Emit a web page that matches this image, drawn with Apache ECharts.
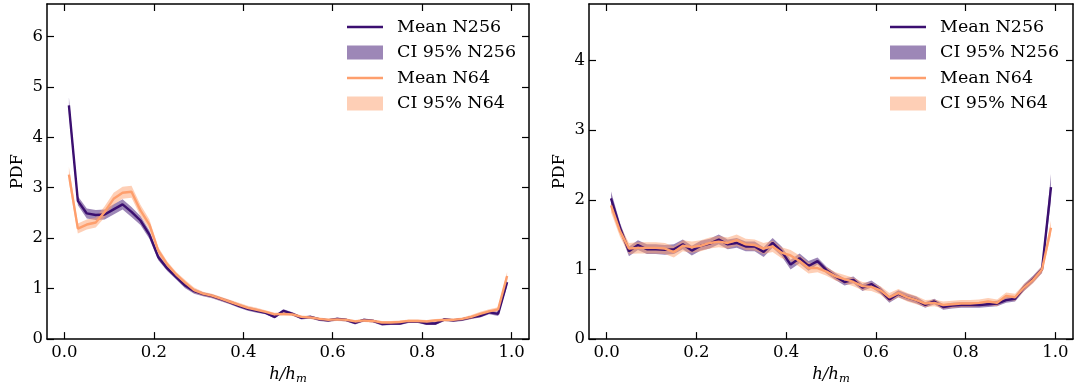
<!DOCTYPE html>
<html>
<head>
<meta charset="utf-8">
<script src="https://cdn.jsdelivr.net/npm/echarts@6/dist/echarts.min.js"></script>
<style>
  html, body { margin: 0; padding: 0; background: #fff; }
  #chart { width: 1076px; height: 390px; }
</style>
</head>
<body>
<div id="chart"></div>
<script>
// Bin centres of h/h_m
const hBins = [0.01,0.03,0.05,0.07,0.09,0.11,0.13,0.15,0.17,0.19,0.21,0.23,0.25,0.27,0.29,0.31,0.33,0.35,0.37,0.39,
  0.41,0.43,0.45,0.47,0.49,0.51,0.53,0.55,0.57,0.59,0.61,0.63,0.65,0.67,0.69,0.71,0.73,0.75,0.77,0.79,
  0.81,0.83,0.85,0.87,0.89,0.91,0.93,0.95,0.97,0.99];

// Left panel: N256
const leftMeanN256 = [4.63,2.74,2.49,2.46,2.47,2.57,2.67,2.52,2.35,2.07,1.62,1.40,1.23,1.06,0.95,0.89,0.85,0.79,0.73,0.66,
  0.60,0.56,0.52,0.44,0.56,0.50,0.42,0.44,0.39,0.37,0.40,0.38,0.32,0.38,0.36,0.30,0.31,0.31,0.35,0.35,
  0.31,0.31,0.39,0.37,0.39,0.43,0.46,0.53,0.50,1.13];
const leftLoN256 = [4.47,2.65,2.39,2.36,2.37,2.47,2.57,2.42,2.26,1.99,1.56,1.35,1.18,1.01,0.90,0.85,0.81,0.75,0.69,0.62,
  0.56,0.52,0.49,0.41,0.53,0.47,0.39,0.41,0.36,0.34,0.37,0.35,0.29,0.35,0.33,0.27,0.28,0.28,0.32,0.32,
  0.28,0.28,0.36,0.34,0.36,0.40,0.43,0.49,0.46,1.05];
const leftHiN256 = [4.79,2.83,2.59,2.56,2.57,2.67,2.77,2.62,2.44,2.15,1.68,1.45,1.28,1.11,1.00,0.93,0.89,0.83,0.77,0.70,
  0.64,0.60,0.55,0.47,0.59,0.53,0.45,0.47,0.42,0.40,0.43,0.41,0.35,0.41,0.39,0.33,0.34,0.34,0.38,0.38,
  0.34,0.34,0.42,0.40,0.42,0.46,0.49,0.57,0.54,1.21];

// Left panel: N64
const leftMeanN64 = [3.26,2.19,2.27,2.31,2.52,2.78,2.90,2.92,2.55,2.27,1.75,1.48,1.28,1.12,0.97,0.90,0.86,0.80,0.74,0.68,
  0.62,0.58,0.54,0.49,0.50,0.49,0.44,0.43,0.40,0.38,0.39,0.38,0.35,0.37,0.36,0.33,0.33,0.34,0.36,0.36,
  0.35,0.37,0.38,0.38,0.40,0.44,0.50,0.55,0.59,1.25];
const leftLoN64 = [3.11,2.09,2.17,2.21,2.41,2.66,2.78,2.80,2.44,2.17,1.68,1.42,1.23,1.07,0.92,0.86,0.82,0.76,0.70,0.64,
  0.58,0.54,0.51,0.46,0.47,0.46,0.41,0.40,0.37,0.35,0.36,0.35,0.32,0.34,0.33,0.30,0.30,0.31,0.33,0.33,
  0.32,0.34,0.35,0.35,0.37,0.40,0.46,0.51,0.55,1.17];
const leftHiN64 = [3.41,2.29,2.37,2.41,2.63,2.90,3.02,3.04,2.66,2.37,1.82,1.54,1.33,1.17,1.02,0.94,0.90,0.84,0.78,0.72,
  0.66,0.62,0.57,0.52,0.53,0.52,0.47,0.46,0.43,0.41,0.42,0.41,0.38,0.40,0.39,0.36,0.36,0.37,0.39,0.39,
  0.38,0.40,0.41,0.41,0.43,0.48,0.54,0.59,0.63,1.33];

// Right panel: N256
const rightMeanN256 = [2.02,1.60,1.26,1.35,1.29,1.29,1.28,1.29,1.36,1.27,1.34,1.37,1.43,1.36,1.38,1.33,1.33,1.25,1.38,1.26,
  1.07,1.16,1.05,1.12,0.99,0.90,0.82,0.85,0.74,0.79,0.70,0.57,0.65,0.60,0.56,0.49,0.54,0.46,0.48,0.49,
  0.49,0.49,0.50,0.51,0.56,0.58,0.74,0.86,1.00,2.18];
const rightLoN256 = [1.92,1.53,1.19,1.28,1.22,1.22,1.21,1.22,1.29,1.20,1.27,1.30,1.36,1.29,1.31,1.26,1.26,1.18,1.31,1.19,
  1.00,1.09,0.98,1.07,0.94,0.85,0.77,0.80,0.69,0.74,0.65,0.52,0.60,0.55,0.51,0.45,0.50,0.42,0.44,0.45,
  0.45,0.45,0.46,0.47,0.52,0.54,0.69,0.81,0.95,1.99];
const rightHiN256 = [2.12,1.67,1.33,1.42,1.36,1.36,1.35,1.36,1.43,1.34,1.41,1.44,1.50,1.43,1.45,1.40,1.40,1.32,1.45,1.33,
  1.14,1.23,1.12,1.17,1.04,0.95,0.87,0.90,0.79,0.84,0.75,0.62,0.70,0.65,0.61,0.53,0.58,0.50,0.52,0.53,
  0.53,0.53,0.54,0.55,0.60,0.62,0.79,0.91,1.05,2.37];

// Right panel: N64
const rightMeanN64 = [1.92,1.55,1.30,1.31,1.31,1.31,1.30,1.25,1.34,1.32,1.34,1.38,1.40,1.38,1.42,1.36,1.35,1.30,1.33,1.24,
  1.20,1.12,1.02,1.02,0.97,0.90,0.86,0.82,0.76,0.75,0.70,0.60,0.66,0.60,0.56,0.51,0.52,0.49,0.50,0.51,
  0.51,0.52,0.54,0.52,0.62,0.60,0.74,0.85,1.00,1.60];
const rightLoN64 = [1.82,1.47,1.22,1.23,1.23,1.23,1.22,1.17,1.26,1.24,1.26,1.30,1.32,1.30,1.34,1.28,1.27,1.22,1.25,1.16,
  1.12,1.04,0.94,0.96,0.91,0.84,0.80,0.76,0.70,0.69,0.64,0.54,0.60,0.54,0.50,0.46,0.47,0.44,0.45,0.46,
  0.46,0.47,0.49,0.47,0.57,0.55,0.69,0.80,0.95,1.50];
const rightHiN64 = [2.02,1.63,1.38,1.39,1.39,1.39,1.38,1.33,1.42,1.40,1.42,1.46,1.48,1.46,1.50,1.44,1.43,1.38,1.41,1.32,
  1.28,1.20,1.10,1.08,1.03,0.96,0.92,0.88,0.82,0.81,0.76,0.66,0.72,0.66,0.62,0.56,0.57,0.54,0.55,0.56,
  0.56,0.57,0.59,0.57,0.67,0.65,0.79,0.90,1.05,1.70];

// Tick labels
const xTicks = [0, 0.2, 0.4, 0.6, 0.8, 1.0];
const yTicksLeft = [0, 1, 2, 3, 4, 5, 6];
const yTicksRight = [0, 1, 2, 3, 4];

const SERIF = 'DejaVu Serif';
const PURPLE = '#3b0f70';
const PURPLE_BAND = 'rgba(59,15,112,0.5)';
const ORANGE = '#fe9f6d';
const ORANGE_BAND = 'rgba(254,159,109,0.5)';

const chart = echarts.init(document.getElementById('chart'), null, { renderer: 'canvas' });

const axisLineStyle = { color: '#000', width: 1.5 };
const tickLineStyle = { color: '#000', width: 1.2 };

function xAxisFor(gridIndex, position, primary) {
  return {
    type: 'value', gridIndex, position, min: -0.039, max: 1.039,
    axisLine: { show: true, onZero: false, lineStyle: axisLineStyle },
    axisTick: { show: true, inside: true, length: 7, customValues: xTicks, lineStyle: tickLineStyle },
    axisLabel: {
      show: primary, customValues: xTicks, margin: 5,
      formatter: v => v.toFixed(1),
      fontFamily: SERIF, fontSize: 16.5, color: '#000'
    },
    splitLine: { show: false },
    name: primary ? '{i|h/h}{s|m}' : '',
    nameLocation: 'middle', nameGap: 18,
    nameTextStyle: {
      rich: {
        i: { fontFamily: SERIF, fontStyle: 'italic', fontSize: 16.5, color: '#000', lineHeight: 18 },
        s: { fontFamily: SERIF, fontStyle: 'italic', fontSize: 11.5, color: '#000', padding: [9, 0, 0, 0] }
      }
    }
  };
}

function yAxisFor(gridIndex, position, primary, max, ticks) {
  return {
    type: 'value', gridIndex, position, min: 0, max,
    axisLine: { show: true, onZero: false, lineStyle: axisLineStyle },
    axisTick: { show: true, inside: true, length: 7, customValues: ticks, lineStyle: tickLineStyle },
    axisLabel: {
      show: primary, customValues: ticks, margin: 4,
      fontFamily: SERIF, fontSize: 16.5, color: '#000'
    },
    splitLine: { show: false },
    name: primary ? 'PDF' : '',
    nameLocation: 'middle', nameGap: 21, nameRotate: 90,
    nameTextStyle: { fontFamily: SERIF, fontSize: 16, color: '#000' }
  };
}

function lineSeries(name, axisIndex, mean, color) {
  return {
    name, type: 'line', xAxisIndex: axisIndex, yAxisIndex: axisIndex,
    data: hBins.map((h, i) => [h, mean[i]]),
    symbol: 'none', silent: true, animation: false,
    lineStyle: { color, width: 2.4 },
    itemStyle: { color }
  };
}

// Confidence band drawn as one polygon through the axis scales
function bandSeries(name, axisIndex, lo, hi, color) {
  return {
    name, type: 'custom', xAxisIndex: axisIndex, yAxisIndex: axisIndex,
    data: hBins.map((h, i) => [h, lo[i], hi[i]]),
    encode: { x: 0, y: [1, 2] },
    silent: true, animation: false,
    itemStyle: { color },
    renderItem: function (params, api) {
      if (params.dataIndex !== 0) return null;
      const upper = hBins.map((h, i) => api.coord([h, hi[i]]));
      const lower = hBins.map((h, i) => api.coord([h, lo[i]])).reverse();
      return { type: 'polygon', shape: { points: upper.concat(lower) }, style: { fill: color } };
    }
  };
}

function legendFor(left, names) {
  const linePath = 'path://M0,0h36v2.4h-36z';
  return {
    orient: 'vertical', left, top: 18, padding: 0,
    itemWidth: 36, itemHeight: 14, itemGap: 7.5,
    selectedMode: false, symbolKeepAspect: true,
    textStyle: { fontFamily: SERIF, fontSize: 17.5, color: '#000', lineHeight: 18, padding: [0, 0, 0, 9] },
    data: [
      { name: names[0], icon: linePath, itemStyle: { color: PURPLE, borderWidth: 0 } },
      { name: names[1], icon: 'rect', itemStyle: { color: PURPLE_BAND, borderWidth: 0 } },
      { name: names[2], icon: linePath, itemStyle: { color: ORANGE, borderWidth: 0 } },
      { name: names[3], icon: 'rect', itemStyle: { color: ORANGE_BAND, borderWidth: 0 } }
    ]
  };
}

const namesLeft = ['Mean N256', 'CI 95% N256', 'Mean N64', 'CI 95% N64'];
// Same labels for the right panel; a zero-width space keeps the legend entries distinct
const namesRight = namesLeft.map(n => n + '\u200b');

const option = {
  backgroundColor: '#fff',
  animation: false,
  grid: [
    { left: 47, top: 4, width: 482, height: 339 },
    { left: 589, top: 4, width: 484, height: 339 }
  ],
  xAxis: [
    xAxisFor(0, 'bottom', true),
    xAxisFor(1, 'bottom', true),
    xAxisFor(0, 'top', false),
    xAxisFor(1, 'top', false)
  ],
  yAxis: [
    yAxisFor(0, 'left', true, 6.64, yTicksLeft),
    yAxisFor(1, 'left', true, 4.81, yTicksRight),
    yAxisFor(0, 'right', false, 6.64, yTicksLeft),
    yAxisFor(1, 'right', false, 4.81, yTicksRight)
  ],
  legend: [legendFor(347, namesLeft), legendFor(890, namesRight)],
  series: [
    lineSeries(namesLeft[0], 0, leftMeanN256, PURPLE),
    bandSeries(namesLeft[1], 0, leftLoN256, leftHiN256, PURPLE_BAND),
    lineSeries(namesLeft[2], 0, leftMeanN64, ORANGE),
    bandSeries(namesLeft[3], 0, leftLoN64, leftHiN64, ORANGE_BAND),
    lineSeries(namesRight[0], 1, rightMeanN256, PURPLE),
    bandSeries(namesRight[1], 1, rightLoN256, rightHiN256, PURPLE_BAND),
    lineSeries(namesRight[2], 1, rightMeanN64, ORANGE),
    bandSeries(namesRight[3], 1, rightLoN64, rightHiN64, ORANGE_BAND)
  ]
};

chart.setOption(option);
</script>
</body>
</html>
